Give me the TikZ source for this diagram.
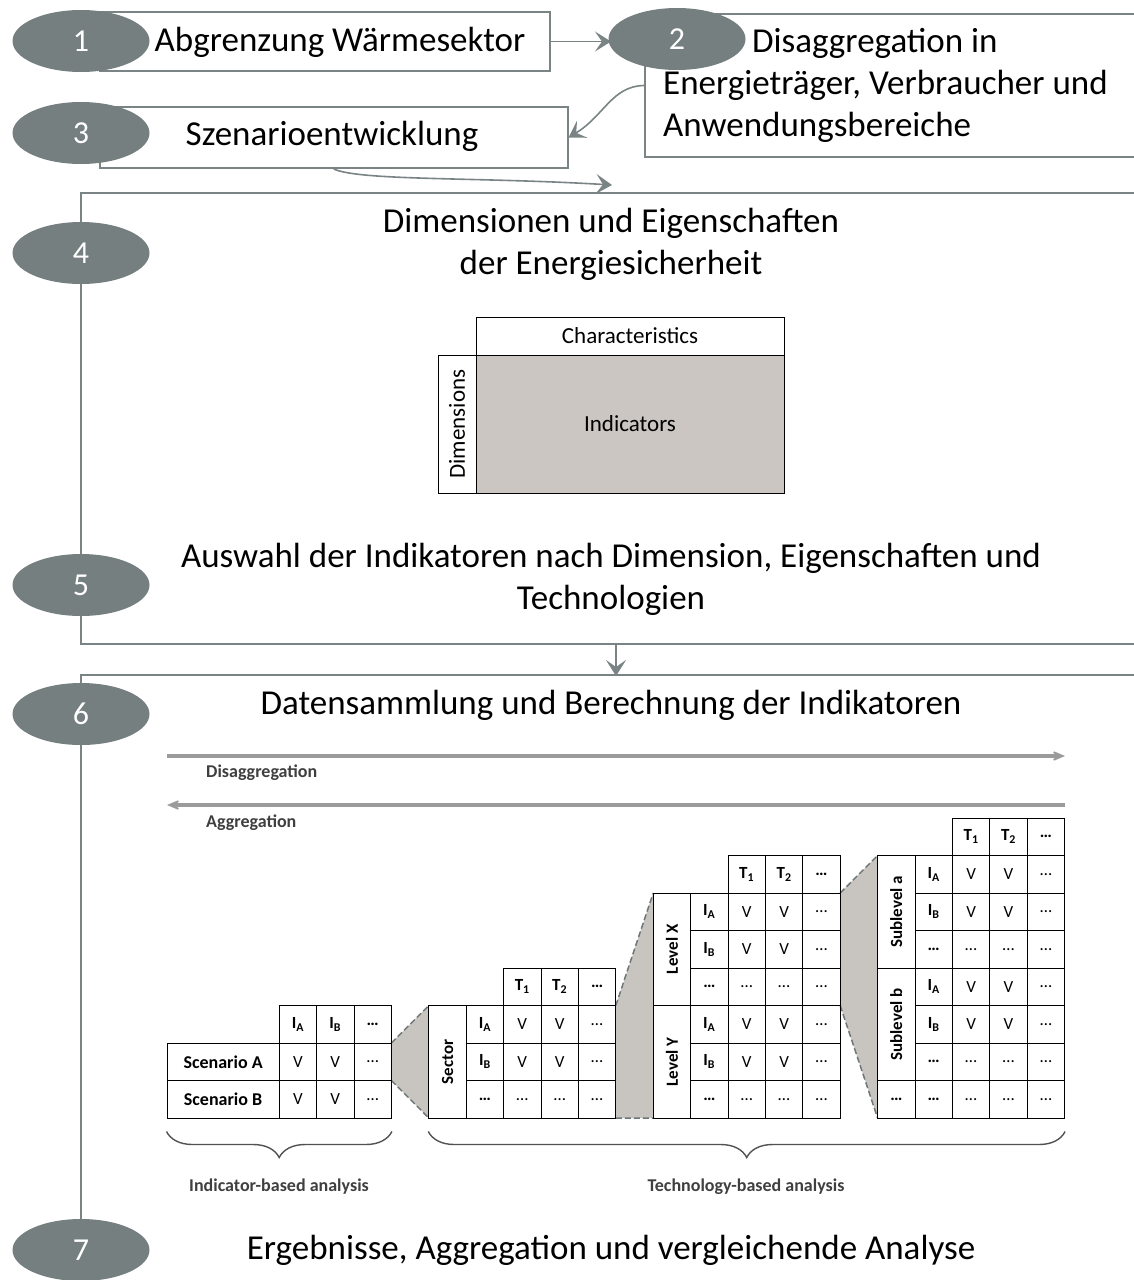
\documentclass[tikz,border=0pt]{standalone}
\usepackage{fontspec}
\setmainfont{Carlito}
\usetikzlibrary{arrows.meta, positioning, calc, shapes.geometric, decorations.pathreplacing}

\definecolor{stepgray}{HTML}{757F7F}
\definecolor{framegray}{HTML}{7A8484}
\definecolor{cellgray}{HTML}{CBC6C2}
\definecolor{funnelgray}{HTML}{C8C4C0}
\definecolor{agggray}{HTML}{9B9B9B}
\definecolor{labelgray}{HTML}{3F3F3F}

\newcommand{\IA}{\textbf{I\textsubscript{A}}}
\newcommand{\IB}{\textbf{I\textsubscript{B}}}
\newcommand{\Tone}{\textbf{T\textsubscript{1}}}
\newcommand{\Ttwo}{\textbf{T\textsubscript{2}}}
\newcommand{\moredots}{\textbf{\ldots}}

\tikzset{
  stepnum/.style={ellipse, fill=stepgray, text=white, minimum width=137pt, minimum height=62pt, inner sep=0pt, font=\fontsize{32}{38}\selectfont},
  stepbox/.style={draw=framegray, line width=2pt, inner sep=0pt},
  steptext/.style={font=\fontsize{35}{42}\selectfont, align=center, inner sep=0pt},
  flow/.style={draw=framegray, line width=1.6pt, -{Stealth[length=16pt, width=20pt, inset=7pt]}},
  tabcell/.style={draw, line width=1pt, minimum width=37.4pt, minimum height=37.5pt, inner sep=0pt, font=\fontsize{17}{20}\selectfont},
  wideleft/.style={tabcell, minimum width=112.2pt, font=\fontsize{18}{20}\selectfont\bfseries},
  levelcell/.style={tabcell, rotate=90, minimum width=112.5pt, minimum height=37.4pt, font=\fontsize{17}{20}\selectfont\bfseries},
  funnelfill/.style={fill=funnelgray},
  funneledge/.style={draw=framegray!90!black, line width=1.5pt, dash pattern=on 6pt off 3pt},
  aggarrow/.style={draw=agggray, line width=3.5pt, -{Stealth[length=20pt, width=17pt, inset=13pt]}},
  agglabel/.style={font=\fontsize{18}{20}\selectfont\bfseries, text=labelgray, anchor=west, inner sep=0pt},
  groupbrace/.style={draw=labelgray!90, line width=1.4pt, decorate, decoration={brace, amplitude=26pt}},
}

\begin{document}
\begin{tikzpicture}[x=1pt, y=-1pt]
\useasboundingbox (0,0) rectangle (1134,1280);

% steps 1 to 3
\node[stepbox, minimum width=450pt, minimum height=59pt] (b1) at (325,41.5) {};
\node[steptext] (t1) at (340,42) {Abgrenzung Wärmesektor};
\node[stepbox, minimum width=515pt, minimum height=143pt] (b2) at (902.5,85.5) {};
\node[steptext, align=left, anchor=west] (t2) at (663,85) {\hspace*{89pt}Disaggregation in\\Energieträger, Verbraucher und\\Anwendungsbereiche};
\node[stepbox, minimum width=467.5pt, minimum height=61pt] (b3) at (333.75,137.5) {};
\node[steptext] (t3) at (332,136) {Szenarioentwicklung};

% steps 4 and 5
\node[stepbox, minimum width=1079pt, minimum height=451pt] (b45) at (620.5,418.5) {};
\node[steptext] (t4) at (611,244) {Dimensionen und Eigenschaften\\der Energiesicherheit};
\node[steptext] (t5) at (611,579) {Auswahl der Indikatoren nach Dimension, Eigenschaften und\\Technologien};

% dimensions x characteristics
\node[draw, line width=1pt, minimum width=308pt, minimum height=38pt, inner sep=0pt, font=\fontsize{23}{26}\selectfont] (chr) at (630,336) {Characteristics};
\node[draw, line width=1pt, fill=cellgray, minimum width=308pt, minimum height=138pt, inner sep=0pt, font=\fontsize{23}{26}\selectfont] (ind) at (630,424) {Indicators};
\node[draw, line width=1pt, rotate=90, minimum width=138pt, minimum height=38pt, inner sep=0pt, font=\fontsize{23}{26}\selectfont] (dim) at (457,424) {Dimensions};

% steps 6 and 7
\node[steptext] (t6) at (611,705) {Datensammlung und Berechnung der Indikatoren};
\node[steptext] (t7) at (611,1250) {Ergebnisse, Aggregation und vergleichende Analyse};

% aggregation arrows
\coordinate (dis-s) at (167,756);
\coordinate (dis-e) at (1065,756);
\coordinate (agg-s) at (1065,805);
\coordinate (agg-e) at (167,805);
\draw[aggarrow] (dis-s) -- (dis-e);
\draw[aggarrow] (agg-s) -- (agg-e);
\node[agglabel] (dis-lab) at (206,773) {Disaggregation};
\node[agglabel] (agg-lab) at (206,823) {Aggregation};

% tables
\begin{scope}[shift={(167,1118)}, x=37.4pt, y=37.5pt]
% funnels between the tables
\fill[funnelfill] (6,2) -- (7,3) -- (7,0) -- (6,1) -- cycle;
\draw[funneledge] (6,2) -- (7,3) (6,1) -- (7,0);
\fill[funnelfill] (12,3) -- (13,6) -- (13,0) -- (12,0) -- cycle;
\draw[funneledge] (12,3) -- (13,6) (12,0) -- (13,0);
\fill[funnelfill] (18,6) -- (19,7) -- (19,0) -- (18,3) -- cycle;
\draw[funneledge] (18,6) -- (19,7) (18,3) -- (19,0);

% scenario table
\node[wideleft] (sc-a) at (1.5,1.5) {Scenario A};
\node[wideleft] (sc-b) at (1.5,0.5) {Scenario B};
\foreach \c/\h in {3/\IA,4/\IB,5/\moredots}
  \node[tabcell] (sc-h\c) at (\c+0.5,2.5) {\h};
\foreach \r in {0,1}
  \foreach \c/\v in {3/V,4/V,5/\ldots}
    \node[tabcell] (sc-\r-\c) at (\c+0.5,\r+0.5) {\v};

% sector table
\node[levelcell] (sec) at (7.5,1.5) {Sector};
\foreach \c/\h in {9/\Tone,10/\Ttwo,11/\moredots}
  \node[tabcell] (sec-h\c) at (\c+0.5,3.5) {\h};
\foreach \r/\i/\v in {2/\IA/V,1/\IB/V,0/\moredots/\ldots}{
  \node[tabcell] (sec-\r-i) at (8.5,\r+0.5) {\i};
  \foreach \c/\w in {9/\v,10/\v,11/\ldots}
    \node[tabcell] (sec-\r-\c) at (\c+0.5,\r+0.5) {\w};
}

% level table
\node[levelcell] (lvx) at (13.5,4.5) {Level X};
\node[levelcell] (lvy) at (13.5,1.5) {Level Y};
\foreach \c/\h in {15/\Tone,16/\Ttwo,17/\moredots}
  \node[tabcell] (lv-h\c) at (\c+0.5,6.5) {\h};
\foreach \r/\i/\v in {5/\IA/V,4/\IB/V,3/\moredots/\ldots,2/\IA/V,1/\IB/V,0/\moredots/\ldots}{
  \node[tabcell] (lv-\r-i) at (14.5,\r+0.5) {\i};
  \foreach \c/\w in {15/\v,16/\v,17/\ldots}
    \node[tabcell] (lv-\r-\c) at (\c+0.5,\r+0.5) {\w};
}

% sublevel table
\node[levelcell] (sla) at (19.5,5.5) {Sublevel a};
\node[levelcell] (slb) at (19.5,2.5) {Sublevel b};
\node[tabcell] (slx) at (19.5,0.5) {\moredots};
\foreach \c/\h in {21/\Tone,22/\Ttwo,23/\moredots}
  \node[tabcell] (sl-h\c) at (\c+0.5,7.5) {\h};
\foreach \r/\i/\v in {6/\IA/V,5/\IB/V,4/\moredots/\ldots,3/\IA/V,2/\IB/V,1/\moredots/\ldots,0/\moredots/\ldots}{
  \node[tabcell] (sl-\r-i) at (20.5,\r+0.5) {\i};
  \foreach \c/\w in {21/\v,22/\v,23/\ldots}
    \node[tabcell] (sl-\r-\c) at (\c+0.5,\r+0.5) {\w};
}
\end{scope}

% braces
\coordinate (br1-r) at ($(sc-0-5.south east)+(0,13)$);
\coordinate (br1-l) at ($(sc-b.south west)+(0,13)$);
\coordinate (br2-r) at ($(sl-0-23.south east)+(0,13)$);
\coordinate (br2-l) at ($(sec.north west)+(0,13)$);
\draw[groupbrace] (br1-r) -- (br1-l);
\draw[groupbrace] (br2-r) -- (br2-l);
\node[agglabel, anchor=center] (ind-lab) at (279,1187) {Indicator-based analysis};
\node[agglabel, anchor=center] (tech-lab) at (746,1187) {Technology-based analysis};

% connectors
\coordinate (e4) at (612,185);
\coordinate (f6) at (616,676);
\draw[flow] (b1.east) -- (b1.east -| 611,0);
\draw[flow] (b2.west) .. controls (612,86) and (604,116) .. (b3.east);
\draw[flow] (b3.south) .. controls (360,181) and (480,177) .. (e4);
\draw[flow] (b45.south -| f6) -- (f6);
\draw[stepbox] (1160,675) -| (81,1250);

% step numbers
\node[stepnum] (n1) at (81,41) {1};
\node[stepnum] (n2) at (677,39) {2};
\node[stepnum] (n3) at (81,133) {3};
\node[stepnum] (n4) at (81,253) {4};
\node[stepnum] (n5) at (81,585) {5};
\node[stepnum] (n6) at (81,714) {6};
\node[stepnum] (n7) at (81,1250) {7};
\end{tikzpicture}
\end{document}
